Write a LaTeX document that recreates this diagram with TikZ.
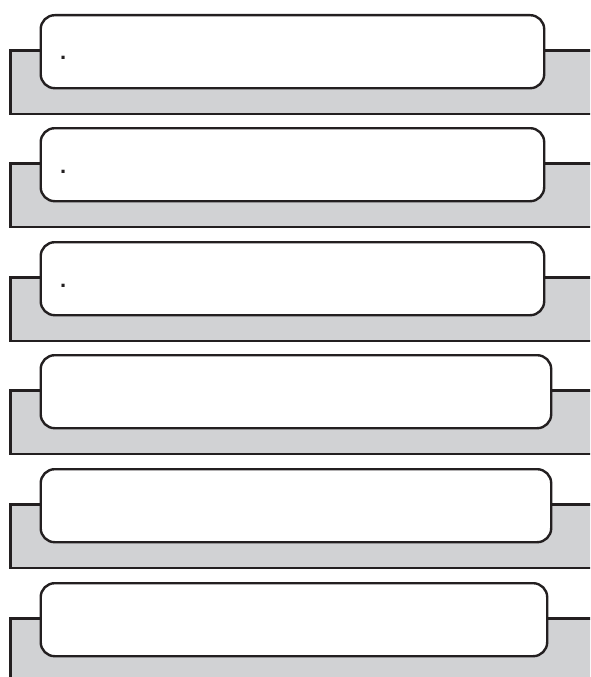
\documentclass[tikz,border=0pt]{standalone}
\usepackage{fontspec}
\setmainfont{Liberation Sans}
\definecolor{linec}{HTML}{231F20}
\definecolor{shade}{HTML}{D1D2D4}
\tikzset{
  panel/.style={draw=linec, line width=2.4pt, fill=white, rounded corners=14pt,
    anchor=north west, inner sep=0pt, minimum height=73pt},
  backing/.style={draw=linec, line width=2.4pt, fill=shade},
  dotlabel/.style={anchor=base west, inner sep=0pt, text=linec,
    font=\fontsize{22}{22}\selectfont\bfseries}
}
\begin{document}
\begin{tikzpicture}[x=1pt,y=-1pt]
\clip (0,0) rectangle (590,677);
\fill[white] (0,0) rectangle (590,677);
\foreach \t/\r/\n in {14/543/1,127/543/2,241/543/3,354/550/4,468/550/5,582/546/6}{
  \coordinate (g\n a) at (10.5,\t+36.5);
  \coordinate (g\n b) at (610,\t+100);
  \draw[backing] (g\n a) rectangle (g\n b);
  \node[panel, minimum width=\r-39.5] (b\n) at (39.5,\t) {};
}
\node[dotlabel] (d1) at (60,59.8) {.};
\node[dotlabel] (d2) at (60,173) {.};
\node[dotlabel] (d3) at (60,287) {.};
\end{tikzpicture}
\end{document}
